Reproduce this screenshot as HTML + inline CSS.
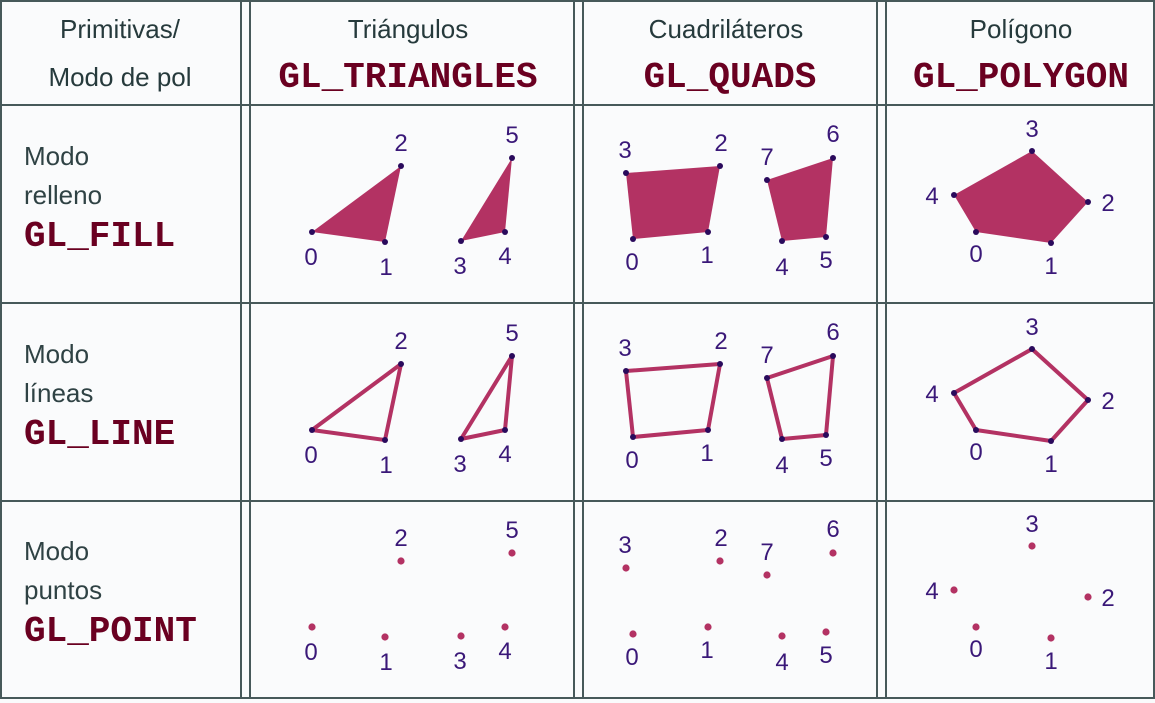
<!DOCTYPE html>
<html><head><meta charset="utf-8"><style>
body{margin:0;background:#fafbfc;}
svg{display:block}
.h{font-family:"Liberation Sans",sans-serif;font-size:26px;fill:#263a3c;text-anchor:middle}
.l{font-family:"Liberation Sans",sans-serif;font-size:26px;fill:#2f4244}
.gl{font-family:"Liberation Mono",monospace;font-size:36px;font-weight:bold;fill:#6a0021}
.n{font-family:"Liberation Sans",sans-serif;font-size:24px;fill:#3a1878;text-anchor:middle}
</style></head><body>
<svg id="s" width="1155" height="703" xmlns="http://www.w3.org/2000/svg">
<rect width="1155" height="703" fill="#fafbfc"/>
<g stroke="#47595a" stroke-width="2" fill="none">
<line x1="0" y1="1" x2="1155" y2="1"/><line x1="0" y1="105" x2="1155" y2="105"/>
<line x1="0" y1="303" x2="1155" y2="303"/><line x1="0" y1="501" x2="1155" y2="501"/>
<line x1="0" y1="698" x2="1155" y2="698"/>
<line x1="1" y1="0" x2="1" y2="698"/><line x1="1154" y1="0" x2="1154" y2="698"/>
<line x1="241" y1="0" x2="241" y2="698"/><line x1="250" y1="0" x2="250" y2="698"/>
<line x1="574" y1="0" x2="574" y2="698"/><line x1="583" y1="0" x2="583" y2="698"/>
<line x1="877" y1="0" x2="877" y2="698"/><line x1="886" y1="0" x2="886" y2="698"/>
</g>
<text class="h" x="120" y="38">Primitivas/</text>
<text class="h" x="120" y="86">Modo de pol</text>
<text class="h" x="408" y="38">Triángulos</text>
<text class="gl" x="408" y="87" text-anchor="middle">GL_TRIANGLES</text>
<text class="h" x="726" y="38">Cuadriláteros</text>
<text class="gl" x="730" y="87" text-anchor="middle">GL_QUADS</text>
<text class="h" x="1021" y="38">Polígono</text>
<text class="gl" x="1021" y="87" text-anchor="middle">GL_POLYGON</text>
<text class="l" x="24" y="165">Modo</text>
<text class="l" x="24" y="204">relleno</text>
<text class="gl" x="24" y="246">GL_FILL</text>
<text class="l" x="24" y="363">Modo</text>
<text class="l" x="24" y="402">líneas</text>
<text class="gl" x="24" y="444">GL_LINE</text>
<text class="l" x="24" y="560">Modo</text>
<text class="l" x="24" y="599">puntos</text>
<text class="gl" x="24" y="641">GL_POINT</text>
<g id="shapes"></g>
</svg>
<script>
// vertex positions (row 1), label positions
const triA=[[312,232],[385,242],[401,166]];
const triB=[[461,241],[505,232],[512,158]];
const quadA=[[633,239],[708,232],[720,166],[626,173]];
const quadB=[[782,241],[826,237],[833,158],[767,180]];
const poly=[[976,232],[1051,243],[1088,202],[1032,151],[954,195]];
const triLabels=[[311,265],[386,275],[401,151],[460,274],[505,264],[512,143]];
const quadLabels=[[632,270],[707,263],[721,151],[625,158],[782,275],[826,268],[833,142],[767,165]];
const polyLabels=[[976,262],[1051,274],[1108,211],[1032,137],[932,204]];
const rowOffsets=[0,198,395];
const NS="http://www.w3.org/2000/svg";
const g=document.getElementById('shapes');
function mk(t,a){const e=document.createElementNS(NS,t);for(const k in a)e.setAttribute(k,a[k]);g.appendChild(e);return e;}
const shapes=[[triA,0],[triB,3],[quadA,0],[quadB,4],[poly,0]];
rowOffsets.forEach((dy,r)=>{
  shapes.forEach(([pts])=>{
    const p=pts.map(q=>q[0]+','+(q[1]+dy)).join(' ');
    if(r===0){const e=mk('polygon',{points:p,fill:'#b33263'});
      
      }
    if(r===1){const e=mk('polygon',{points:p,fill:'none',stroke:'#b33263','stroke-width':4,'stroke-linejoin':'round'});
      
      }
    pts.forEach(q=>{
      const c=mk('circle',{cx:q[0],cy:q[1]+dy,r:r===2?3.6:3,fill:r===2?'#b33263':'#2a0a5c'});
      
      
    });
  });
  const groups=[[triLabels,[0,1,2,3,4,5]],[quadLabels,[0,1,2,3,4,5,6,7]],[polyLabels,[0,1,2,3,4]]];
  groups.forEach(([lab,ids])=>{
    lab.forEach((q,i)=>{
      const t=mk('text',{x:q[0],y:q[1]+dy,'class':'n'});
      t.textContent=ids[i];
      
      
    });
  });
});
</script>
</body></html>
